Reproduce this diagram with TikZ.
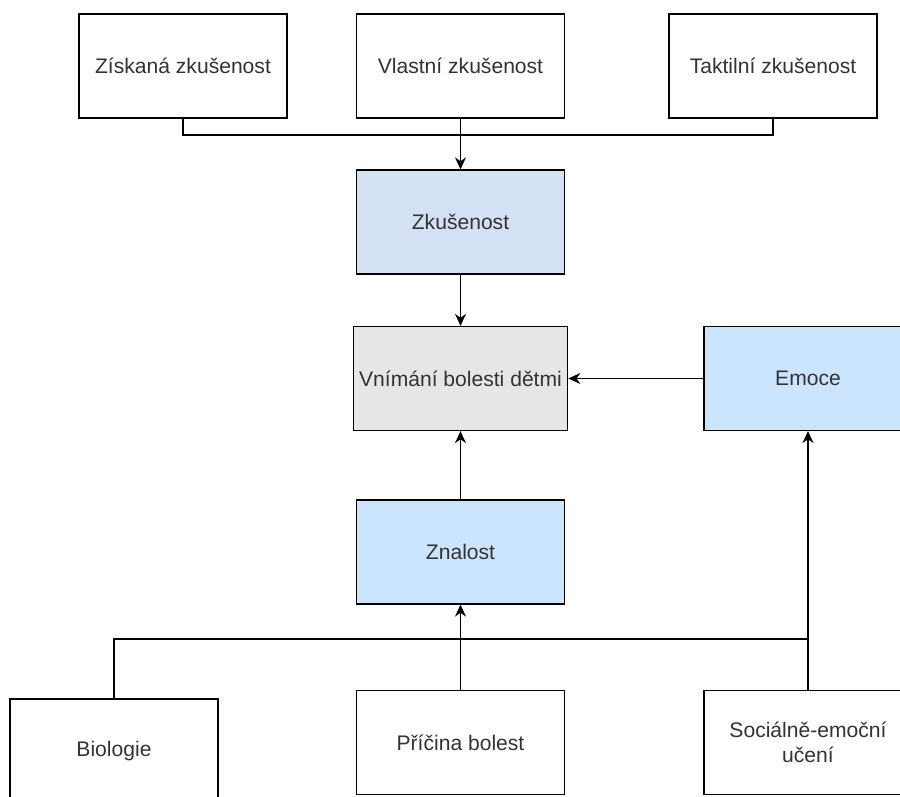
\documentclass[tikz,border=0pt]{standalone}
\usepackage{fontspec}
\setmainfont{Liberation Sans}
\usetikzlibrary{arrows.meta}

\definecolor{zkusfill}{HTML}{D4E1F5}
\definecolor{centerfill}{HTML}{E6E6E6}
\definecolor{bluefill}{HTML}{CCE5FF}
\definecolor{txt}{HTML}{333333}

\begin{document}
\begin{tikzpicture}[
    >={Stealth[length=2.4mm, width=2.2mm]},
    line/.style  = {line width=0.7pt},
    block/.style = {draw, line width=0.7pt, fill=white, text=txt,
                    font=\fontsize{12}{14.5}\selectfont, align=center,
                    minimum height=2.08cm, minimum width=4.16cm}
]
\useasboundingbox (0, 0) rectangle (18, 15.92);
\clip (0, 0) rectangle (18, 15.92);

% Top sources
\node[block] (Ziskana)  at (3.66, 14.6)  {Získaná zkušenost};
\node[block] (Vlastni)  at (9.21, 14.6)  {Vlastní zkušenost};
\node[block] (Taktilni) at (15.46, 14.6) {Taktilní zkušenost};

% Middle column
\node[block, fill=zkusfill]   (Zkusenost) at (9.21, 11.48) {Zkušenost};
\node[block, fill=centerfill] (Vnimani)   at (9.21, 8.35)  {Vnímání bolesti dětmi};
\node[block, fill=bluefill]   (Emoce)     at (16.16, 8.35) {Emoce};
\node[block, fill=bluefill]   (Znalost)   at (9.21, 4.88)  {Znalost};

% Bottom sources
\node[block] (Biologie) at (2.28, 0.9)   {Biologie};
\node[block] (Pricina)  at (9.21, 1.07)  {Příčina bolest};
\node[block] (Socialni) at (16.16, 1.07) {Sociálně-emoční\\učení};

% Fan-in to Zkušenost
\coordinate (topjoin) at (9.21, 13.22);
\draw[line] (Ziskana.south) |- (topjoin) -| (Taktilni.south);
\draw[->, line] (Vlastni.south) -- (Zkusenost.north);

% Into the centre
\draw[->, line] (Zkusenost.south) -- (Vnimani.north);
\draw[->, line] (Emoce.west) -- (Vnimani.east);
\draw[->, line] (Znalost.north) -- (Vnimani.south);

% Fan-in from the bottom row
\coordinate (botjoin) at (16.16, 3.14);
\draw[line] (Biologie.north) |- (botjoin);
\draw[->, line] (Pricina.north) -- (Znalost.south);
\draw[->, line] (Socialni.north) -- (Emoce.south);

\end{tikzpicture}
\end{document}
